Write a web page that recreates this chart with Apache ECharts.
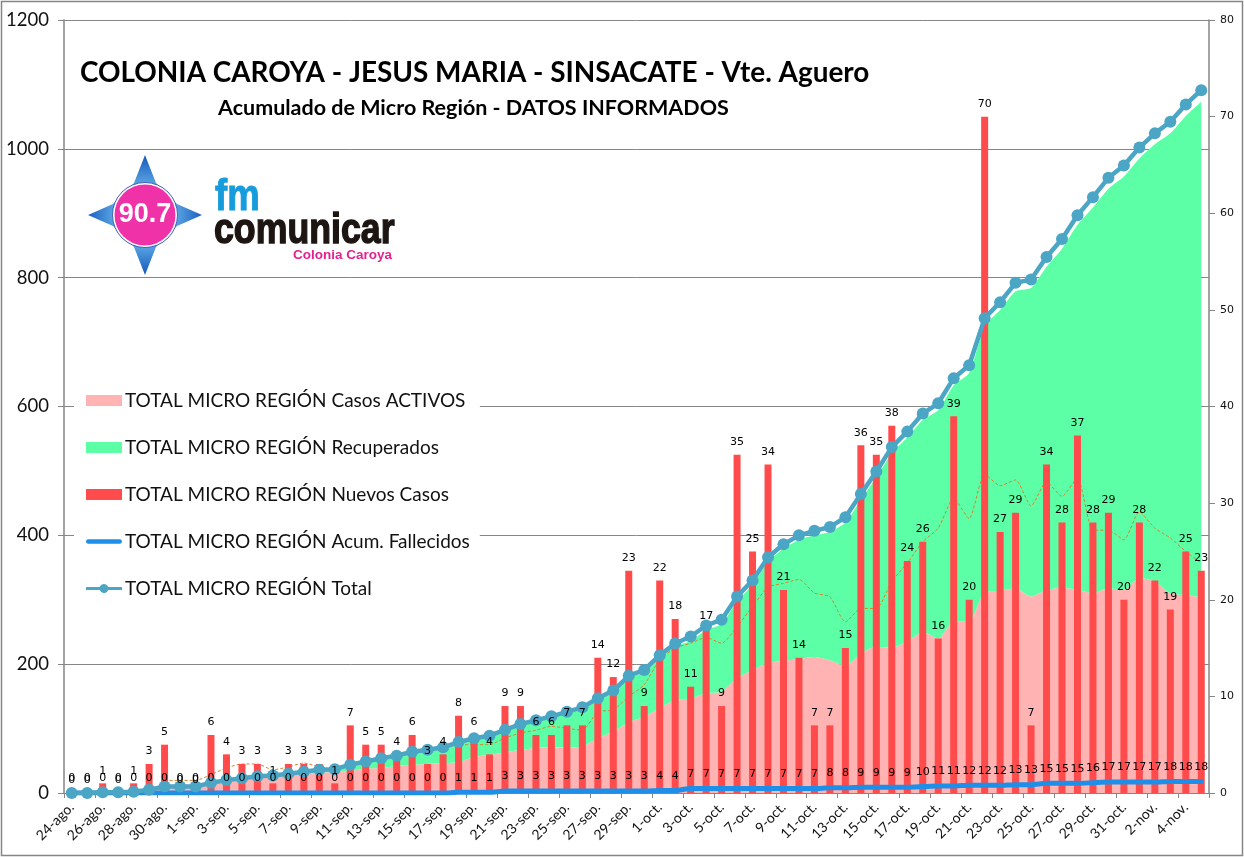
<!DOCTYPE html>
<html><head><meta charset="utf-8">
<style>html,body{margin:0;padding:0;background:#fff}#c{width:1244px;height:857px}</style>
<script src="https://cdn.jsdelivr.net/npm/echarts@6/dist/echarts.min.js"></script>
</head><body><div id="c"></div>
<script>
const startDays=[['ago.',24,31],['sep.',1,30],['oct.',1,31],['nov.',1,5]];
const categories=[];
startDays.forEach(([m,a,b])=>{for(let d=a;d<=b;d++)categories.push(d+'-'+m);});
const nuevos=[0,0,1,0,1,3,5,0,0,6,4,3,3,1,3,3,3,1,7,5,5,4,6,3,4,8,6,4,9,9,6,6,7,7,14,12,23,9,22,18,11,17,9,35,25,34,21,14,7,7,15,36,35,38,24,26,16,39,20,70,27,29,7,34,28,37,28,29,20,28,22,19,25,23];
const fallecidos=[0,0,0,0,0,0,0,0,0,0,0,0,0,0,0,0,0,0,0,0,0,0,0,0,0,1,1,1,3,3,3,3,3,3,3,3,3,3,4,4,7,7,7,7,7,7,7,7,7,8,8,9,9,9,9,10,11,11,12,12,12,13,13,15,15,15,16,17,17,17,17,18,18,18];
const total=[0,0,1,1,2,5,10,10,10,16,20,23,26,27,30,33,36,37,44,49,54,58,64,67,71,79,85,89,98,107,113,119,126,133,147,159,182,191,214,232,243,260,269,305,330,366,386,400,407,413,428,464,499,537,561,589,605,644,664,737,762,792,797,832,860,897,925,955,974,1002,1024,1042,1069,1091];
const activos=[0,0,1,1,2,5,10,10,10,14,18,21,24,25,28,29,31,33,34,38,39,42,44,45,46,48,56,59,63,67,70,71,70,72,85,95,110,118,132,144,147,155,157,178,191,202,205,208,211,206,197,217,227,225,235,250,240,266,266,312,314,318,305,315,319,315,310,318,315,334,328,310,307,304];
const recuperados=[0,0,0,0,0,0,0,0,0,0,0,0,0,0,2,4,5,4,10,11,15,16,20,22,25,30,28,29,32,37,40,45,53,58,59,61,69,70,78,84,89,98,105,120,132,157,174,185,189,199,223,238,263,303,317,329,354,367,386,413,436,461,479,502,526,567,599,620,642,651,679,714,744,769];
const promedio=[null,null,null,null,null,null,1.3,1.3,1.3,1.9,2.6,3,3,2.4,2.7,3.1,2.7,2.3,3,3.3,3.6,4,4.4,4.4,4.6,5,5,5,5.7,6.2,6.5,6.9,6.7,6.5,8.4,8.6,10,11.2,13.8,15,15.5,16.1,15.5,17.2,19.3,21.3,21.7,22.1,20.7,20.3,17.7,19.1,19.1,21.9,23.8,26,27.4,30.5,28.4,33,31.8,32.4,29.7,32.2,30.7,32.6,27.2,27.2,26.2,29.1,27.4,26.4,25,23.8];
const names=['TOTAL MICRO REGIÓN Casos ACTIVOS','TOTAL MICRO REGIÓN Recuperados','TOTAL MICRO REGIÓN Nuevos Casos','TOTAL MICRO REGIÓN Acum. Fallecidos','TOTAL MICRO REGIÓN Total'];
const titleText='COLONIA CAROYA - JESUS MARIA - SINSACATE - Vte. Aguero';
const subtitleText='Acumulado de Micro Región - DATOS INFORMADOS';

const GRAY='#868686',UI='Lato',LBL='"DejaVu Sans"';
const ICON_LINE='path://M18 0h.01v.01h-.01z M18 11h.01v.01h-.01z M2.5 3H35.5A2.5 2.5 0 0 1 35.5 8H2.5A2.5 2.5 0 0 1 2.5 3Z M0 5.5h.01v.01h-.01z M38 5.5h.01v.01h-.01z';
const ICON_DOT='path://M0 4H14.6A4.6 4.6 0 0 1 23.4 4H38V7H23.4A4.6 4.6 0 0 1 14.6 7H0Z M19 0h.01v.01h-.01z M19 11h.01v.01h-.01z';
const chart=echarts.init(document.getElementById('c'),null,{renderer:'canvas'});
const blue=new echarts.graphic.RadialGradient(0.5,0.5,0.5,[{offset:0,color:'#a9d4f3'},{offset:0.55,color:'#5aa4e2'},{offset:1,color:'#1b5fc0'}]);
chart.setOption({
 animation:false,backgroundColor:'#fff',
 title:[
  {text:titleText,left:80,top:59,padding:0,textStyle:{fontFamily:UI,fontWeight:'bold',fontSize:27.9,color:'#000'}},
  {text:subtitleText,left:218,top:97,padding:0,textStyle:{fontFamily:UI,fontWeight:'bold',fontSize:21.5,color:'#000'}}
 ],
 grid:{left:64,right:35,top:20,bottom:64,containLabel:false},
 legend:{orient:'vertical',left:74,top:385,padding:[6,10,6,12],backgroundColor:'#fff',itemWidth:36,itemHeight:11,itemGap:28,
  textStyle:{fontFamily:UI,fontSize:19,color:'#111',padding:[0,0,0,-2]},
  data:[{name:names[0],icon:'rect'},{name:names[1],icon:'rect'},{name:names[2],icon:'rect'},{name:names[3],icon:ICON_LINE},{name:names[4],icon:ICON_DOT}]},
 xAxis:{type:'category',data:categories,boundaryGap:true,
  axisLine:{lineStyle:{color:GRAY,width:1}},
  axisTick:{show:true,interval:1,alignWithLabel:false,length:5,lineStyle:{color:GRAY}},
  axisLabel:{interval:1,rotate:45,fontFamily:UI,fontSize:14,color:'#111',margin:12,hideOverlap:false}},
 yAxis:[
  {type:'value',min:0,max:1200,interval:200,
   axisLine:{show:true,lineStyle:{color:GRAY,width:1.5}},axisTick:{show:true,length:6,lineStyle:{color:GRAY}},
   splitLine:{show:true,lineStyle:{color:GRAY,width:1}},
   axisLabel:{fontFamily:UI,fontSize:18.5,color:'#111',margin:15,formatter:v=>String(v)}},
  {type:'value',min:0,max:80,interval:10,position:'right',
   axisLine:{show:true,lineStyle:{color:GRAY,width:1.5}},axisTick:{show:true,length:6,lineStyle:{color:GRAY}},
   splitLine:{show:false},
   axisLabel:{fontFamily:LBL,fontSize:11,color:'#111',margin:11}}
 ],
 series:[
  {name:names[0],type:'line',stack:'a',data:activos,smooth:0.2,symbol:'none',z:1,lineStyle:{width:0},itemStyle:{color:'#FFB3B3'},areaStyle:{color:'#FFB3B3',opacity:1}},
  {name:names[1],type:'line',stack:'a',data:recuperados,smooth:0.2,symbol:'none',z:1,lineStyle:{width:0},itemStyle:{color:'#5CFFA5'},areaStyle:{color:'#5CFFA5',opacity:1}},
  {name:names[2],type:'bar',yAxisIndex:1,data:nuevos,barWidth:7,barGap:'-100%',z:3,itemStyle:{color:'#FF4B4B'}},
  {name:'Etiquetas nuevos',type:'bar',yAxisIndex:1,data:nuevos,barWidth:7,barGap:'-100%',z:6,itemStyle:{color:'transparent'},
   label:{show:true,position:'top',distance:7,fontFamily:LBL,fontSize:11,color:'#000'}},
  {name:'Promedio',type:'line',yAxisIndex:1,data:promedio,smooth:0.2,symbol:'none',z:2,lineStyle:{color:'#D9822B',width:1,type:[3,2]}},
  {name:names[3],type:'line',data:fallecidos,symbol:'none',z:4,smooth:0.2,lineStyle:{color:'#1E8FE8',width:5,cap:'round'},itemStyle:{color:'#1E8FE8'}},
  {name:names[4],type:'line',data:total,symbol:'circle',symbolSize:12,showAllSymbol:true,z:5,lineStyle:{color:'#4BA5C5',width:4.5},itemStyle:{color:'#4BA5C5'}},
  {name:'Etiquetas fallecidos',type:'line',data:fallecidos,symbol:'circle',symbolSize:2,showAllSymbol:true,z:6,lineStyle:{width:0},itemStyle:{color:'transparent'},
   label:{show:true,position:'top',distance:8,fontFamily:LBL,fontSize:11,color:'#000'}}
 ],
 graphic:[
  {type:'rect',z:100,silent:true,shape:{x:1.5,y:1.5,width:1241,height:854},style:{fill:'none',stroke:GRAY,lineWidth:1.5}},
  {type:'polygon',z:100,silent:true,shape:{points:[[145,155],[156,183],[177,204],[202,215],[177,226],[156,247],[145,275],[134,247],[113,226],[88,215],[113,204],[134,183]]},style:{fill:blue}},
  {type:'circle',z:101,silent:true,shape:{cx:145,cy:215,r:32.5},style:{fill:'#fff',stroke:'#3a62b8',lineWidth:1}},
  {type:'circle',z:102,silent:true,shape:{cx:145,cy:215,r:30.5},style:{fill:'#F032A8'}},
  {type:'text',z:103,silent:true,style:{x:145,y:215,text:'90.7',fill:'#fff',font:'bold 27px "Liberation Sans"',textAlign:'center',textVerticalAlign:'middle'}},
  {type:'text',z:103,silent:true,x:215,y:198,scaleX:0.83,style:{x:0,y:0,text:'fm',fill:'#169BDD',stroke:'#169BDD',lineWidth:1,font:'bold 44px "Liberation Sans"',textAlign:'left',textVerticalAlign:'middle'}},
  {type:'text',z:103,silent:true,x:214,y:231,scaleX:0.85,style:{x:0,y:0,text:'comunicar',fill:'#1c1512',stroke:'#1c1512',lineWidth:1.4,font:'bold 42px "Liberation Sans"',textAlign:'left',textVerticalAlign:'middle'}},
  {type:'text',z:103,silent:true,style:{x:293,y:255,text:'Colonia Caroya',fill:'#E5218F',font:'bold 13.5px "Liberation Sans"',textAlign:'left',textVerticalAlign:'middle'}}
 ]
});
</script></body></html>
